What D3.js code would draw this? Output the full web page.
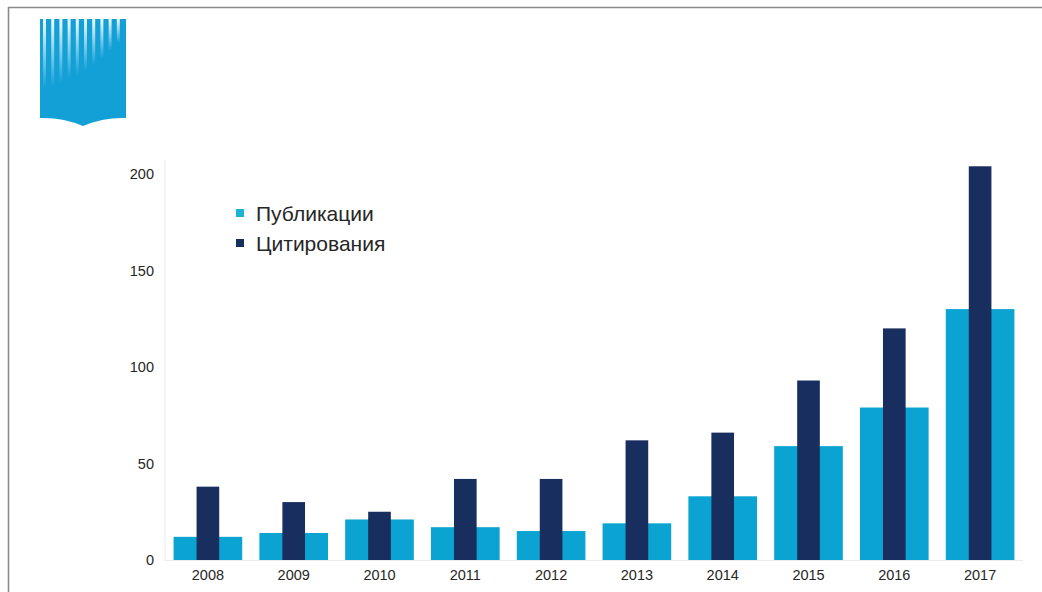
<!DOCTYPE html>
<html>
<head>
<meta charset="utf-8">
<script src="https://cdn.jsdelivr.net/npm/d3@7"></script>
<style>
  html, body { margin: 0; padding: 0; background: #fff; }
  svg { display: block; font-family: "Liberation Sans", Arial, sans-serif; }
</style>
</head>
<body>
<svg id="chart" width="1042" height="592"></svg>
<script>
const years = ["2008", "2009", "2010", "2011", "2012", "2013", "2014", "2015", "2016", "2017"];
const publications = [12, 14, 21, 17, 15, 19, 33, 59, 79, 130];
const citations = [38, 30, 25, 42, 42, 62, 66, 93, 120, 204];
const yTicks = [0, 50, 100, 150, 200];
const seriesNames = ["Публикации", "Цитирования"];

const LIGHT = "#0ba3d2";
const DARK = "#182e5e";
const TEXT = "#262626";

const svg = d3.select("#chart");

// frame of the scanned page
svg.append("line").attr("x1", 8).attr("x2", 1042).attr("y1", 7.5).attr("y2", 7.5)
    .attr("stroke", "#8a8a8a").attr("stroke-width", 1.6);
svg.append("line").attr("x1", 8.5).attr("x2", 8.5).attr("y1", 7).attr("y2", 592)
    .attr("stroke", "#8a8a8a").attr("stroke-width", 1.6);

// logo in the corner
const logo = svg.append("g");
logo.append("path")
    .attr("d", "M40,19 L126,19 L126,118 Q104,117 83,126 Q62,117 40,118 Z")
    .attr("fill", "#12a0d6");
const defs = svg.append("defs");
const grad = defs.append("linearGradient").attr("id", "fade").attr("x1", 0).attr("x2", 0).attr("y1", 0).attr("y2", 1);
grad.append("stop").attr("offset", "0%").attr("stop-color", "#fff").attr("stop-opacity", 0.95);
grad.append("stop").attr("offset", "100%").attr("stop-color", "#fff").attr("stop-opacity", 0);
const stripeLen = [70, 68, 64, 60, 56, 52, 46, 40, 32, 24];
stripeLen.forEach((len, i) => {
    logo.append("rect")
        .attr("x", 43 + i * 8.2).attr("y", 19)
        .attr("width", 3).attr("height", len)
        .attr("fill", "url(#fade)");
});

const x = d3.scaleBand().domain(years).range([165, 1023]).paddingInner(0.2).paddingOuter(0.1);
const y = d3.scaleLinear().domain([0, 200]).range([560, 174]);

// faint axis lines
svg.append("line").attr("x1", 165).attr("x2", 165).attr("y1", 160).attr("y2", 561)
    .attr("stroke", "#ececec");
svg.append("line").attr("x1", 165).attr("x2", 1023).attr("y1", 560.5).attr("y2", 560.5)
    .attr("stroke", "#ececec");

const yAxis = svg.append("g")
    .attr("transform", "translate(154,0)")
    .call(d3.axisLeft(y).tickValues(yTicks).tickSize(0).tickPadding(0));
yAxis.select(".domain").remove();
yAxis.selectAll("text").attr("font-size", 14.5).attr("fill", TEXT)
    .attr("font-family", "Liberation Sans, Arial, sans-serif");

const xAxis = svg.append("g")
    .attr("transform", "translate(0,570)")
    .call(d3.axisBottom(x).tickSize(0).tickPadding(0));
xAxis.select(".domain").remove();
xAxis.selectAll("text").attr("font-size", 14.5).attr("fill", TEXT)
    .attr("font-family", "Liberation Sans, Arial, sans-serif");

const pubData = years.map((yr, i) => ({ year: yr, value: publications[i] }));
const citData = years.map((yr, i) => ({ year: yr, value: citations[i] }));

svg.append("g").selectAll("rect").data(pubData).enter().append("rect")
    .attr("x", (d) => x(d.year))
    .attr("width", x.bandwidth())
    .attr("y", (d) => y(d.value))
    .attr("height", (d) => y(0) - y(d.value))
    .attr("fill", LIGHT);

const darkW = x.bandwidth() * 0.33;
svg.append("g").selectAll("rect").data(citData).enter().append("rect")
    .attr("x", (d) => x(d.year) + (x.bandwidth() - darkW) / 2)
    .attr("width", darkW)
    .attr("y", (d) => y(d.value))
    .attr("height", (d) => y(0) - y(d.value))
    .attr("fill", DARK);

// legend
const legend = svg.append("g");
const legendColors = ["#1bb3d3", DARK];
seriesNames.forEach((name, i) => {
    const ly = 213 + i * 30;
    legend.append("rect").attr("x", 236).attr("y", ly - 4).attr("width", 8).attr("height", 8)
        .attr("fill", legendColors[i]);
    legend.append("text").attr("x", 256).attr("y", ly + 7.5)
        .attr("font-size", 21).attr("fill", TEXT).text(name);
});
</script>
</body>
</html>
